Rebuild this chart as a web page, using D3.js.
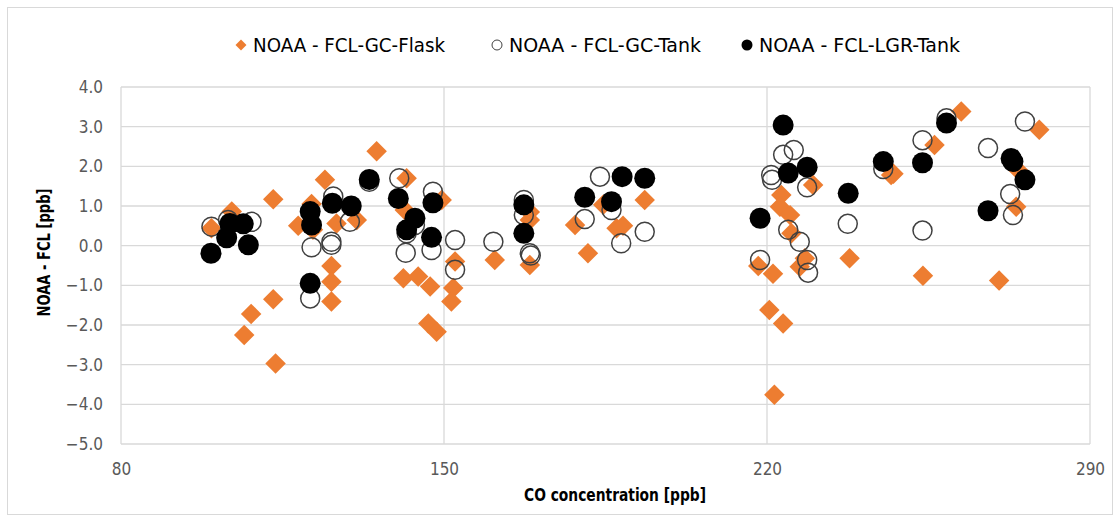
<!DOCTYPE html>
<html><head><meta charset="utf-8">
<script src="https://cdn.jsdelivr.net/npm/d3@7/dist/d3.min.js"></script>
<style>
body{margin:0;background:#fff;}
svg{display:block;}
text{font-family:"DejaVu Sans Condensed","Liberation Sans Narrow",sans-serif;}
</style></head>
<body><svg id="c" width="1120" height="522"></svg>
<script>
// ---- data ----
const seriesNames = ["NOAA - FCL-GC-Flask", "NOAA - FCL-GC-Tank", "NOAA - FCL-LGR-Tank"];
const xTicks = [80, 150, 220, 290];
const yTicks = [-5, -4, -3, -2, -1, 0, 1, 2, 3, 4];
const flaskX = [99.6,104.0,113.0,108.2,106.7,113.0,113.5,124.2,118.4,121.3,121.6,126.7,125.6,125.6,125.6,131.1,135.4,141.9,141.5,141.2,144.4,147.0,146.6,148.4,149.5,152.4,152.0,151.6,
  161.0,168.6,168.6,168.6,178.4,181.2,184.5,187.4,188.8,193.5,
  218.1,221.3,223.1,222.8,225.0,225.3,227.1,228.2,230.0,220.5,223.5,221.6,237.9,247.4,
  246.9,256.3,262.1,274.4,274.0,279.0,253.8,270.3];
const flaskY = [0.44,0.86,1.17,-1.72,-2.25,-1.35,-2.97,1.66,0.50,1.05,0.40,0.56,-0.51,-0.91,-1.41,0.65,2.38,1.70,0.90,-0.82,-0.78,-1.03,-1.96,-2.17,1.15,-0.40,-1.07,-1.41,
  -0.36,-0.49,0.65,0.85,0.52,-0.19,1.03,0.44,0.50,1.15,
  -0.51,-0.71,1.28,0.98,0.77,0.31,-0.53,-0.32,1.53,-1.62,-1.96,-3.76,-0.32,1.81,
  1.78,2.54,3.38,1.91,0.98,2.92,-0.76,-0.88];
const gcTankX = [99.6,103.2,108.3,121.3,125.6,125.6,126.0,129.6,121.0,133.8,140.3,147.6,141.9,141.7,147.3,143.7,152.4,152.4,
  160.7,167.3,167.3,168.6,168.8,180.5,183.8,186.3,188.4,193.5,
  223.5,225.8,220.9,221.1,228.7,224.6,227.1,218.5,228.7,228.9,237.5,245.2,
  253.7,258.9,267.9,272.7,273.3,253.7,275.9];
const gcTankY = [0.48,0.65,0.60,-0.04,0.02,0.10,1.24,0.60,-1.33,1.61,1.70,1.36,0.31,-0.18,-0.11,0.52,0.14,-0.61,
  0.10,1.15,0.77,-0.19,-0.25,0.67,1.74,0.90,0.06,0.35,
  2.29,2.41,1.78,1.66,1.47,0.40,0.10,-0.36,-0.36,-0.68,0.55,1.93,
  2.66,3.21,2.46,1.30,0.77,0.38,3.13];
const lgrTankX = [99.5,102.9,103.6,106.5,107.6,121.0,121.3,121.0,125.8,129.9,133.8,140.1,143.7,141.9,147.6,147.3,
  167.3,167.3,180.5,186.3,188.6,193.5,
  223.5,224.6,228.7,237.6,218.5,245.2,
  253.7,258.9,272.9,273.3,275.9,267.9];
const lgrTankY = [-0.19,0.20,0.56,0.55,0.02,0.86,0.52,-0.95,1.07,1.00,1.67,1.19,0.69,0.40,1.08,0.21,
  1.03,0.31,1.22,1.11,1.74,1.70,
  3.04,1.83,1.98,1.32,0.69,2.12,
  2.09,3.09,2.20,2.12,1.66,0.88];

// ---- layout ----
const svg = d3.select("#c");
const L = 121, R = 1090, T = 87, B = 444;
const x = d3.scaleLinear().domain([80, 290]).range([L, R]);
const y = d3.scaleLinear().domain([-5, 4]).range([B, T]);
const orange = "#ED7D31";

svg.append("rect").attr("x", 7.5).attr("y", 7.5).attr("width", 1105).attr("height", 507)
  .attr("fill", "#fff").attr("stroke", "#d9d9d9").attr("stroke-width", 1);

// gridlines
svg.append("g").selectAll("line").data(yTicks).join("line")
  .attr("x1", L).attr("x2", R).attr("y1", d => y(d)).attr("y2", d => y(d))
  .attr("stroke", "#d9d9d9").attr("stroke-width", 1.3);
svg.append("g").selectAll("line").data(xTicks).join("line")
  .attr("y1", T).attr("y2", B).attr("x1", d => x(d)).attr("x2", d => x(d))
  .attr("stroke", "#d9d9d9").attr("stroke-width", 1.3);

// axes labels via d3 axes
const yAxis = svg.append("g").attr("transform", `translate(${L},0)`)
  .call(d3.axisLeft(y).tickValues(yTicks).tickFormat(d3.format(".1f")).tickSize(0).tickPadding(18));
const xAxis = svg.append("g").attr("transform", `translate(0,${B})`)
  .call(d3.axisBottom(x).tickValues(xTicks).tickSize(0).tickPadding(19));
[yAxis, xAxis].forEach(a => {
  a.select(".domain").remove();
  a.selectAll("text").attr("fill", "#595959").style("font-size", "17px")
   .style("font-family", '"DejaVu Sans Condensed",sans-serif');
});

// axis titles
svg.append("text").attr("x", 615).attr("y", 501).attr("text-anchor", "middle")
  .style("font-size", "18px").style("font-weight", "bold").attr("fill", "#000")
  .attr("textLength", 182).attr("lengthAdjust", "spacingAndGlyphs")
  .text("CO concentration [ppb]");
svg.append("text").attr("transform", `translate(50,${(T + B) / 2 - 13}) rotate(-90)`).attr("text-anchor", "middle")
  .style("font-size", "18px").style("font-weight", "bold").attr("fill", "#000")
  .attr("textLength", 128).attr("lengthAdjust", "spacingAndGlyphs")
  .text("NOAA - FCL [ppb]");

// marks
const diamond = d3.symbol().type(d3.symbolSquare).size(210);
const flask = flaskX.map((v, i) => ({x: v, y: flaskY[i]}));
const gc = gcTankX.map((v, i) => ({x: v, y: gcTankY[i]}));
const lgr = lgrTankX.map((v, i) => ({x: v, y: lgrTankY[i]}));

svg.append("g").selectAll("path").data(flask).join("path")
  .attr("d", diamond).attr("fill", orange)
  .attr("transform", d => `translate(${x(d.x)},${y(d.y)}) rotate(45)`);
svg.append("g").selectAll("circle").data(gc).join("circle")
  .attr("cx", d => x(d.x)).attr("cy", d => y(d.y)).attr("r", 9.5)
  .attr("fill", "none").attr("stroke", "#404040").attr("stroke-width", 1.5);
svg.append("g").selectAll("circle").data(lgr).join("circle")
  .attr("cx", d => x(d.x)).attr("cy", d => y(d.y)).attr("r", 10.5)
  .attr("fill", "#000");

// legend
const legX = [241, 497, 747];
const legW = [192, 192, 201];
const leg = svg.append("g");
seriesNames.forEach((name, i) => {
  const g = leg.append("g").attr("transform", `translate(${legX[i]},45)`);
  if (i === 0) g.append("path").attr("d", d3.symbol().type(d3.symbolSquare).size(60)).attr("fill", orange).attr("transform", "rotate(45)");
  else if (i === 1) g.append("circle").attr("r", 5).attr("fill", "none").attr("stroke", "#404040").attr("stroke-width", 1);
  else g.append("circle").attr("r", 5.5).attr("fill", "#000");
  g.append("text").attr("x", 12).attr("y", 0).attr("dy", "0.35em").style("font-size", "19px").attr("fill", "#000")
    .attr("textLength", legW[i]).attr("lengthAdjust", "spacingAndGlyphs").text(name);
});
</script></body></html>
